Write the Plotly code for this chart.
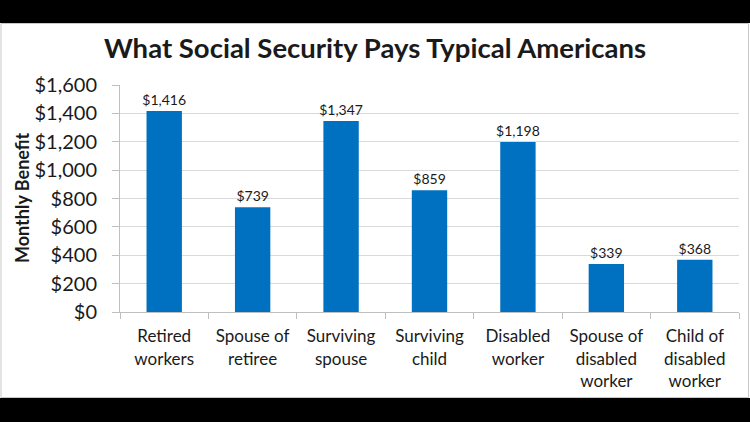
import plotly.graph_objects as go

categories = ["Retired<br>workers", "Spouse of<br>retiree", "Surviving<br>spouse",
              "Surviving<br>child", "Disabled<br>worker", "Spouse of<br>disabled<br>worker",
              "Child of<br>disabled<br>worker"]
values = [1416, 739, 1347, 859, 1198, 339, 368]
value_labels = ["$1,416", "$739", "$1,347", "$859", "$1,198", "$339", "$368"]
y_ticks = [0, 200, 400, 600, 800, 1000, 1200, 1400, 1600]
y_tick_labels = ["$0", "$200", "$400", "$600", "$800", "$1,000", "$1,200", "$1,400", "$1,600"]

FONT = "Lato"
TXT = "#1a1a1a"
W, H = 750, 422
L, R, T, B = 120, 11, 85, 110
pw, ph = W - L - R, H - T - B

def px_x(p):
    return (p - L) / pw

def px_y(p):
    return (H - B - p) / ph

fig = go.Figure(go.Bar(
    x=categories, y=values, width=0.4,
    marker=dict(color="#0070C0", line=dict(width=0)),
    text=value_labels, textposition="outside", cliponaxis=False,
    constraintext="none",
    textfont=dict(family=FONT, size=14, color=TXT),
))

shapes = [
    dict(type="rect", xref="paper", yref="paper", x0=px_x(-5), x1=px_x(W + 5),
         y0=px_y(0) + 0.05, y1=px_y(23), fillcolor="black", line=dict(width=0), layer="above"),
    dict(type="rect", xref="paper", yref="paper", x0=px_x(-5), x1=px_x(W + 5),
         y0=px_y(H) - 0.05, y1=px_y(398), fillcolor="black", line=dict(width=0), layer="above"),
    dict(type="rect", xref="paper", yref="paper", x0=px_x(1), x1=px_x(748.5),
         y0=px_y(397.5), y1=px_y(23.5), fillcolor="rgba(0,0,0,0)",
         line=dict(color="#c8c8c8", width=1), layer="above"),
]

fig.update_layout(
    width=W, height=H,
    margin=dict(l=L, r=R, t=T, b=B, autoexpand=False),
    paper_bgcolor="white", plot_bgcolor="white",
    font=dict(family=FONT, color=TXT),
    title=dict(text="<b>What Social Security Pays Typical Americans</b>",
               x=0.5, xanchor="center", y=1 - 48 / H, yanchor="middle",
               font=dict(family=FONT, size=27.5, color=TXT)),
    showlegend=False,
    bargap=0.6,
    shapes=shapes,
    annotations=[dict(text="<b>Monthly Benefit</b>", textangle=-90, xref="paper", yref="paper",
                      x=px_x(22), y=px_y(197), xanchor="center", yanchor="middle", showarrow=False,
                      font=dict(family=FONT, size=18, color=TXT))],
    xaxis=dict(showline=True, linecolor="#bfbfbf", linewidth=1, ticks="outside",
               tickson="boundaries", ticklen=6, tickcolor="#bfbfbf", automargin=False,
               ticklabelstandoff=9,
               tickfont=dict(family=FONT, size=17, color=TXT), showgrid=False),
    yaxis=dict(range=[0, 1600], tickvals=y_ticks, ticktext=y_tick_labels,
               showline=True, linecolor="#bfbfbf", linewidth=1, ticks="outside",
               ticklen=7, tickcolor="#bfbfbf", ticklabelstandoff=11, automargin=False,
               gridcolor="#d9d9d9", gridwidth=1, zeroline=False,
               tickfont=dict(family=FONT, size=20, color=TXT)),
)

fig.write_html("out.html", config={"displayModeBar": False},
               post_script="document.body.style.margin='0';document.body.style.overflow='hidden';")
